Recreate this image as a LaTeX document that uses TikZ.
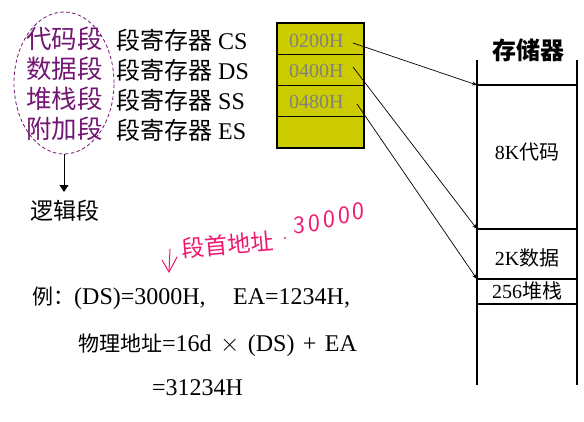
\documentclass[tikz,border=0pt]{standalone}
\usepackage{fontspec}
\setmainfont{Liberation Serif}
\newfontfamily\cjk{Noto Sans CJK SC}
\usetikzlibrary{arrows.meta,shapes.geometric}

\definecolor{segpurple}{RGB}{115,22,115}
\definecolor{regyellow}{RGB}{204,204,0}
\definecolor{regtext}{RGB}{128,128,128}
\definecolor{inkpink}{RGB}{240,24,110}

\newcommand\zhtext[1]{{\cjk\fontsize{21}{21}\selectfont #1}}

\begin{document}
\begin{tikzpicture}[x=1pt,y=-1pt,
  segname/.style={anchor=west,inner sep=0pt,text=segpurple,
    font=\cjk\fontsize{25.5}{25.5}\selectfont},
  regname/.style={anchor=west,inner sep=0pt,font=\fontsize{24}{24}\selectfont},
  regcell/.style={draw,fill=regyellow,line width=1.1pt,minimum width=87pt,
    minimum height=31.25pt,inner sep=0pt},
  regval/.style={anchor=west,inner sep=0pt,text=regtext,
    font=\fontsize{20}{20}\selectfont},
  ptr/.style={-{Stealth[length=5pt,width=4pt]},line width=0.7pt},
  memline/.style={line width=1.1pt},
  memlabel/.style={inner sep=0pt,font=\fontsize{20}{20}\selectfont},
  plain/.style={anchor=west,inner sep=0pt,font=\fontsize{24}{24}\selectfont},
  ink/.style={inkpink,line width=1pt,line cap=round,line join=round},
  inkdigit/.style={inner sep=0pt,text=inkpink,font=\sffamily\fontsize{25}{25}\selectfont}]
\useasboundingbox (0,0) rectangle (584,421);

% segment names and their registers
\node[segname] (code)  at (26,39)  {代码段};
\node[segname] (data)  at (26,69)  {数据段};
\node[segname] (stack) at (26,99)  {堆栈段};
\node[segname] (extra) at (26,129) {附加段};
\node[regname] (cs) at (116,40)  {{\cjk 段寄存器} CS};
\node[regname] (ds) at (116,70)  {{\cjk 段寄存器} DS};
\node[regname] (ss) at (116,100) {{\cjk 段寄存器} SS};
\node[regname] (es) at (116,130) {{\cjk 段寄存器} ES};

% logical segments
\node[draw=segpurple,dashed,dash pattern=on 3.5pt off 2.5pt,line width=0.8pt,
  ellipse,minimum width=100pt,minimum height=142pt,inner sep=0pt] (grp) at (64,83) {};
\node[inner sep=0pt,font=\cjk\fontsize{23}{23}\selectfont] (logic) at (65,211) {逻辑段};
\coordinate (logictop) at (64,192);
\draw[line width=0.9pt,-{Triangle[width=9pt,length=7pt]}] (grp.south) -- (logictop);

% segment register contents
\node[regcell] (r1) at (320.5,38.6)  {};
\node[regcell] (r2) at (320.5,69.9)  {};
\node[regcell] (r3) at (320.5,101.1) {};
\node[regcell] (r4) at (320.5,132.4) {};
\node[regval] (v1) at (289,41)  {0200H};
\node[regval] (v2) at (289,71)  {0400H};
\node[regval] (v3) at (289,102) {0480H};

% memory column
\node[inner sep=0pt,font=\cjk\bfseries\fontsize{24}{24}\selectfont] (memtitle) at (528,50) {存储器};
\coordinate (mtl) at (477,60);  \coordinate (mtr) at (577,60);
\coordinate (mbl) at (477,385); \coordinate (mbr) at (577,385);
\coordinate (m1) at (477,85);   \coordinate (m1r) at (577,85);
\coordinate (m2) at (477,229);  \coordinate (m2r) at (577,229);
\coordinate (m3) at (477,279);  \coordinate (m3r) at (577,279);
\coordinate (m4) at (477,304);  \coordinate (m4r) at (577,304);
\draw[memline] (mtl) -- (mbl);
\draw[memline] (mtr) -- (mbr);
\draw[memline] (m1) -- (m1r);
\draw[memline] (m2) -- (m2r);
\draw[memline] (m3) -- (m3r);
\draw[memline] (m4) -- (m4r);
\node[memlabel] (codeseg)  at (527,152) {8K{\cjk 代码}};
\node[memlabel] (dataseg)  at (527,258) {2K{\cjk 数据}};
\node[memlabel] (stackseg) at (527,291) {256{\cjk 堆栈}};

% register to segment base
\coordinate (s1) at (353,43);
\coordinate (s2) at (353,67);
\coordinate (s3) at (357,104);
\draw[ptr] (s1) -- (m1);
\draw[ptr] (s2) -- (m2);
\draw[ptr] (s3) -- (m3);

% handwritten note
\draw[ink] (170,249) -- (169,272);
\draw[ink] (162,260) -- (169,272) -- (177,257);
\node[inner sep=0pt,text=inkpink,rotate=5,font=\cjk\fontsize{23}{23}\selectfont] (note) at (228,245) {段首地址};
\fill[inkpink] (285,238) circle (1.1pt);
\node[inkdigit] (d1) at (299,225) {3};
\node[inkdigit] (d2) at (314,223) {0};
\node[inkdigit] (d3) at (329,219) {0};
\node[inkdigit] (d4) at (344,215) {0};
\node[inkdigit] (d5) at (358,211) {0};

% worked example
\node[plain] (ex1) at (32,298) {\zhtext{例：}(DS)=3000H,};
\node[plain] (ex1b) at (233,298) {EA=1234H,};
\node[plain] (ex2) at (78,345) {\zhtext{物理地址}=16d\hspace{0.35em}$\times$\hspace{0.35em}(DS)\hspace{0.35em}+\hspace{0.35em}EA};
\node[plain] (ex3) at (152,388) {=31234H};
\end{tikzpicture}
\end{document}
